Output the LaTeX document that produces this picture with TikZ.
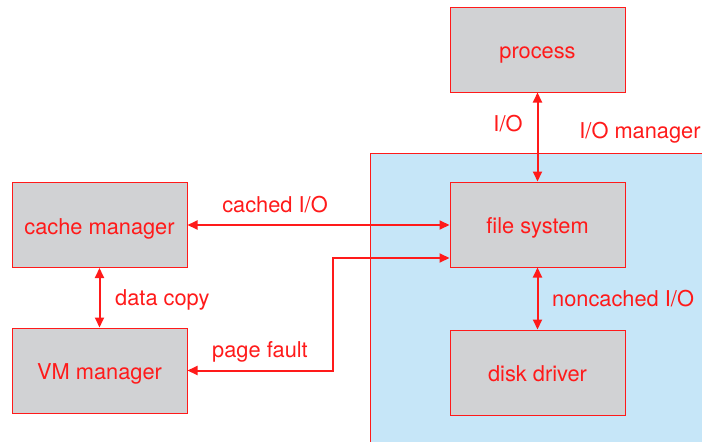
\documentclass[tikz,border=0pt]{standalone}
\usepackage{fontspec}
\setmainfont{TeX Gyre Heros}
\usepackage{xcolor}
\usetikzlibrary{arrows.meta}
\definecolor{ioRed}{HTML}{FF1A1A}
\definecolor{boxGray}{HTML}{D1D2D4}
\definecolor{mgrBlue}{HTML}{C6E6F8}

\tikzset{
    block/.style={draw=ioRed, line width=1pt, fill=boxGray, text=ioRed,
        minimum width=175pt, minimum height=85pt, inner sep=0pt,
        text height=20pt, text depth=1.6pt},
    lbl/.style={text=ioRed, inner sep=0pt},
    dbl/.style={ioRed, line width=2pt,
        {Triangle[length=10pt,width=9pt]}-{Triangle[length=10pt,width=9pt]}}
}

\begin{document}
\begin{tikzpicture}[x=1pt, y=-1pt, font=\fontsize{21.8}{24}\selectfont]
    \useasboundingbox (0,0) rectangle (702,442);
    \clip (0,0) rectangle (702,442);

    % I/O manager region
    \fill[mgrBlue] (370,153) rectangle (712,452);
    \draw[ioRed, line width=1pt] (370,452) -- (370,153) -- (712,153);
    \node[lbl] (iomgr) at (640,133) {I/O manager};

    \node[block] (proc) at (537.5,49.5) {process};
    \node[block] (fs) at (537.5,224.5) {file system};
    \node[block] (disk) at (537.5,372.5) {disk driver};
    \node[block] (cm) at (99.5,225) {cache manager};
    \node[block] (vm) at (99.5,370.5) {VM manager};

    \draw[dbl] (proc) -- (fs);
    \node[lbl] (io) at (508,124) {I/O};

    \draw[dbl] (fs) -- (disk);
    \node[lbl, anchor=west] (ncio) at (552,299) {noncached I/O};

    \draw[dbl] (cm) -- (vm);
    \node[lbl, anchor=west] (dc) at (115,300) {data copy};

    \draw[dbl] (cm.east) -- (cm.east -| fs.west);
    \node[lbl] (cio) at (275,205) {cached I/O};

    \coordinate (pf) at (333,258);
    \draw[dbl] (vm.east) -| (pf) -- (pf -| fs.west);
    \node[lbl] (pgf) at (260,352) {page fault};
\end{tikzpicture}
\end{document}
